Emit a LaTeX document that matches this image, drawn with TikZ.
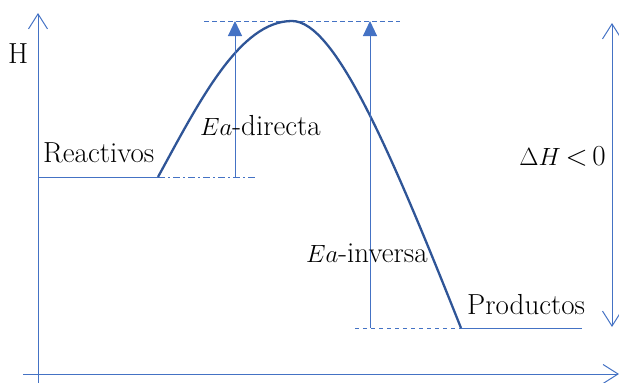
\documentclass[tikz,border=0pt]{standalone}
\usepackage{fontspec}
\usepackage{tikz}
\usetikzlibrary{arrows.meta, positioning, calc}
\definecolor{axisblue}{RGB}{68,114,196}
\definecolor{curveblue}{RGB}{47,85,151}

\begin{document}
\begin{tikzpicture}[
    x=1pt, y=-1pt,
    axis/.style={axisblue, line width=1pt, -{Straight Barb[length=15pt,width=19pt,line width=1pt]}},
    level/.style={axisblue, line width=1pt},
    guide/.style={axisblue, line width=1pt, dash pattern=on 5pt off 3pt},
    eaarrow/.style={axisblue, line width=1pt, -{Triangle[length=15pt,width=14pt]}},
    curve/.style={curveblue, line width=2.3pt},
    lbl/.style={font=\fontsize{29}{34}\selectfont, anchor=base west, inner sep=0pt},
]
\useasboundingbox (0,0) rectangle (619,383);

% axes
\coordinate (origin) at (38,374);
\coordinate (ytop) at (38,13);
\coordinate (ybot) at (38,383);
\coordinate (xleft) at (23,374);
\coordinate (xright) at (619,374);
\draw[axis] (ybot) -- (ytop);
\draw[axis] (xleft) -- (xright);

% energy levels
\coordinate (reac0) at (38,177);
\coordinate (reac) at (158,177);
\coordinate (reacend) at (257,177);
\coordinate (peak) at (292,21);
\coordinate (prod) at (461,328);
\coordinate (prodend) at (582,328);
\coordinate (prodstart) at (355,328);
\coordinate (topleft) at (204,21);
\coordinate (topright) at (400,21);

\draw[level] (reac0) -- (reac);
\draw[level, dash pattern=on 7pt off 3pt on 2pt off 3pt] (reac) -- (reacend);
\draw[level] (prod) -- (prodend);
\draw[level, dash pattern=on 4pt off 4pt] (prodstart) -- (prod);
\draw[guide] (topleft) -- (topright);

% reaction profile
\draw[curve] (reac) .. controls (200,100) and (240,21) .. (peak)
                    .. controls (335,21) and (390,150) .. (prod);

% activation energies
\coordinate (eadbot) at (235,177);
\coordinate (eadtop) at (235,21);
\coordinate (eaibot) at (370,328);
\coordinate (eaitop) at (370,21);
\draw[eaarrow] (eadbot) -- (eadtop);
\draw[eaarrow] (eaibot) -- (eaitop);

% enthalpy change
\coordinate (dhtop) at (612,23);
\coordinate (dhbot) at (612,327);
\draw[axis, {Straight Barb[length=15pt,width=19pt,line width=1pt]}-{Straight Barb[length=15pt,width=19pt,line width=1pt]}] (dhtop) -- (dhbot);

% labels
\node[lbl] (hlabel) at (8,63) {H};
\node[lbl] (reaclabel) at (43,162) {Reactivos};
\node[lbl] (eadlabel) at (200,135) {$Ea$-directa};
\node[lbl, anchor=base east] (dhlabel) at (606,165) {$\Delta H$\,<\,0};
\node[lbl] (eailabel) at (306,262) {$Ea$-inversa};
\node[lbl] (prodlabel) at (467,314) {Productos};

\end{tikzpicture}
\end{document}
